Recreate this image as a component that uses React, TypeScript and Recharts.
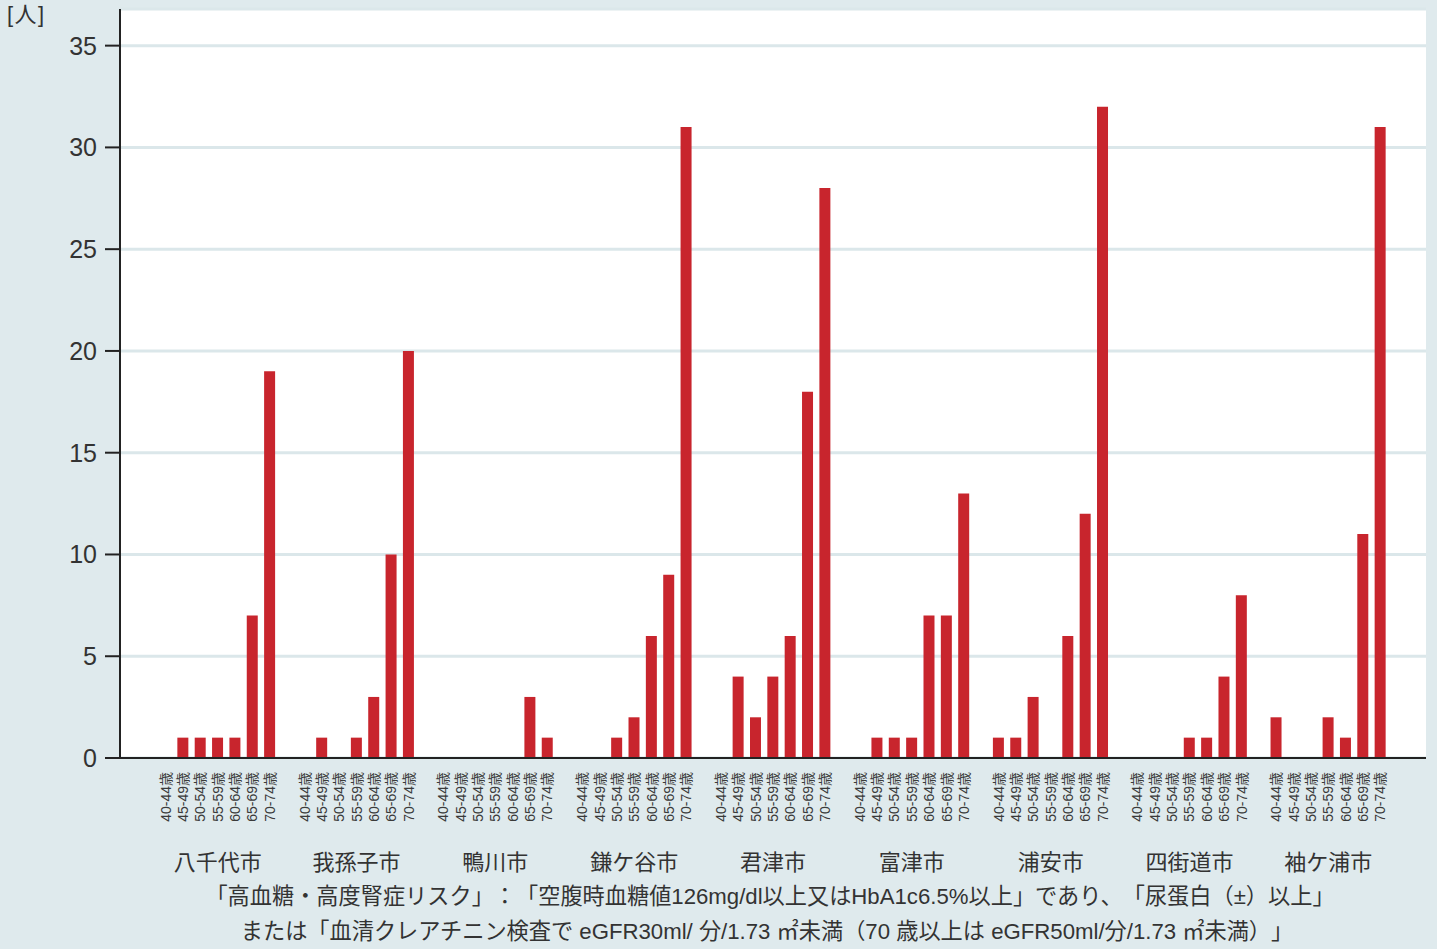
import React from 'react';
import { BarChart, Bar, XAxis, YAxis, CartesianGrid } from 'recharts';

const cities = ['八千代市', '我孫子市', '鴨川市', '鎌ケ谷市', '君津市', '富津市', '浦安市', '四街道市', '袖ケ浦市'];
const ages = ['40-44歳', '45-49歳', '50-54歳', '55-59歳', '60-64歳', '65-69歳', '70-74歳'];

const yachiyo = [0, 1, 1, 1, 1, 7, 19];
const abiko = [0, 1, 0, 1, 3, 10, 20];
const kamogawa = [0, 0, 0, 0, 0, 3, 1];
const kamagaya = [0, 0, 1, 2, 6, 9, 31];
const kimitsu = [0, 4, 2, 4, 6, 18, 28];
const futtsu = [0, 1, 1, 1, 7, 7, 13];
const urayasu = [1, 1, 3, 0, 6, 12, 32];
const yotsukaido = [0, 0, 0, 1, 1, 4, 8];
const sodegaura = [2, 0, 0, 2, 1, 11, 31];

const seriesByCity = [yachiyo, abiko, kamogawa, kamagaya, kimitsu, futtsu, urayasu, yotsukaido, sodegaura];

const yTicks = [0, 5, 10, 15, 20, 25, 30, 35];

const footnote1 = '「高血糖・高度腎症リスク」：「空腹時血糖値126mg/dl以上又はHbA1c6.5%以上」であり、「尿蛋白（±）以上」';
const footnote2 = 'または「血清クレアチニン検査で eGFR30ml/ 分/1.73 ㎡未満（70 歳以上は eGFR50ml/分/1.73 ㎡未満）」';

type Row = { key: string; age: string; city: string; pos: number; value: number | null };

const rows: Row[] = [];
cities.forEach((city, ci) => {
  ages.forEach((age, ai) => {
    rows.push({ key: `${ci}-${ai}`, age, city, pos: ai, value: seriesByCity[ci][ai] });
  });
  if (ci < cities.length - 1) {
    rows.push({ key: `gap-${ci}`, age: '', city: '', pos: -1, value: null });
  }
});

const FONT = "'Liberation Sans', Arial, 'Noto Sans CJK JP', sans-serif";
const BG = '#dfeaed';

const XTick = (props: any) => {
  const { x, payload } = props;
  const row = rows[payload.index];
  if (!row || !row.age) return null;
  const ty = 772;
  return (
    <g>
      <text
        x={x}
        y={ty}
        transform={`rotate(-90, ${x}, ${ty})`}
        textAnchor="end"
        dy="0.36em"
        fontSize={14}
        fill="#3a3a3a"
        fontFamily={FONT}
      >
        {row.age}
      </text>
      {row.pos === 3 ? (
        <text x={x} y={870} textAnchor="middle" fontSize={22} fill="#333" fontFamily={FONT}>
          {row.city}
        </text>
      ) : null}
    </g>
  );
};

const noteStyle: any = {
  position: 'absolute',
  left: 0,
  textAlign: 'center',
  fontSize: 22.2,
  lineHeight: '26px',
  whiteSpace: 'nowrap',
  textSpacingTrim: 'space-all',
};

export default function App() {
  return (
    <div
      style={{
        position: 'absolute',
        top: 0,
        left: 0,
        width: 1437,
        height: 949,
        background: BG,
        fontFamily: FONT,
        color: '#333',
        overflow: 'hidden',
      }}
    >
      <BarChart
        width={1437}
        height={949}
        data={rows}
        margin={{ top: 9, right: 11, bottom: 0, left: 0 }}
        barSize={11}
      >
        <CartesianGrid
          horizontal={true}
          vertical={false}
          fill="#ffffff"
          stroke="#dbe7ea"
          strokeWidth={3}
        />
        <XAxis
          dataKey="key"
          interval={0}
          tickLine={false}
          axisLine={{ stroke: '#222', strokeWidth: 2 }}
          tick={<XTick />}
          height={191}
          padding={{ left: 37, right: 37 }}
        />
        <YAxis
          width={120}
          domain={[0, 36.8]}
          ticks={yTicks}
          allowDataOverflow
          tickSize={15}
          tickMargin={8}
          tickLine={{ stroke: '#222', strokeWidth: 2 }}
          axisLine={{ stroke: '#222', strokeWidth: 2 }}
          tick={{ fontSize: 25, fill: '#333', fontFamily: FONT }}
        />
        <Bar dataKey="value" fill="#c8252d" isAnimationActive={false} />
      </BarChart>
      <div style={{ position: 'absolute', left: 7, top: 3, fontSize: 22, lineHeight: '24px', letterSpacing: 1.5 }}>[人]</div>
      <div style={{ ...noteStyle, top: 884, width: 1540 }}>{footnote1}</div>
      <div style={{ ...noteStyle, top: 919, width: 1534 }}>{footnote2}</div>
    </div>
  );
}
